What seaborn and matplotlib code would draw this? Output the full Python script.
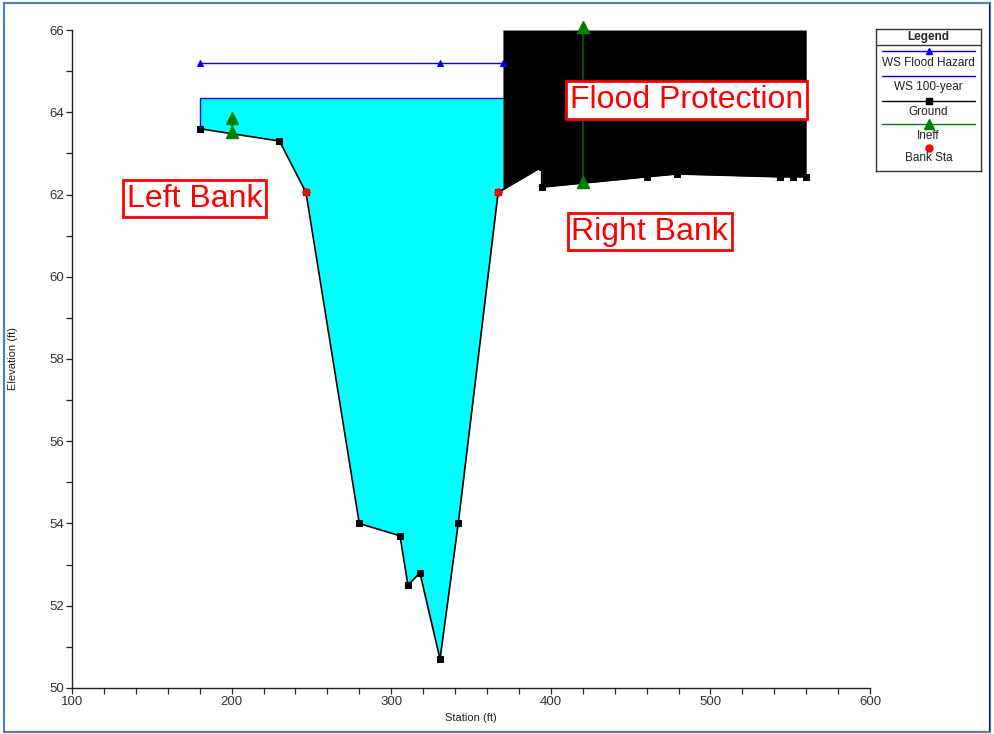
import numpy as np
import pandas as pd
import matplotlib
matplotlib.use("Agg")
import matplotlib.pyplot as plt
import seaborn as sns
from matplotlib.ticker import MultipleLocator
from matplotlib.patches import Rectangle
from matplotlib.lines import Line2D

# Cross-section ground survey (station ft, elevation ft)
ground_sta = [180.0, 230.0, 246.6, 280.0, 305.5, 310.5, 318.0, 330.6, 342.0,
              367.0, 394.3, 394.3, 460.0, 479.0, 543.6, 551.8, 560.0]
ground_elev = [63.6, 63.3, 62.05, 54.0, 53.7, 52.5, 52.8, 50.7, 54.0,
               62.05, 62.67, 62.18, 62.43, 62.5, 62.43, 62.43, 62.43]

# Bank stations
bank_sta = [246.6, 367.0]
bank_elev = [62.05, 62.05]

# Water surfaces
ws_100yr_elev = 64.35
ws_100yr_sta = [180.0, 370.0]
ws_flood_elev = 65.2
ws_flood_sta = [180.0, 330.6, 370.0]

# Blocked obstruction (flood protection)
obstruction_sta = [370.0, 560.0]
obstruction_top = 66.0

# Ineffective flow limits
ineff_left_sta = [200.0, 200.0]
ineff_left_elev = [63.52, 63.87]
ineff_right_sta = [420.0, 420.0]
ineff_right_elev = [62.3, 66.07]

# Callout labels
label_text = ["Left Bank", "Right Bank", "Flood Protection"]
label_sta = [177.0, 462.0, 485.0]
label_elev = [61.9, 61.1, 64.3]

sns.set_theme(style="white")
plt.rcParams["font.family"] = ["Liberation Sans", "DejaVu Sans"]

fig = plt.figure(figsize=(9.94, 7.34), dpi=100)
ax = fig.add_axes([0.0724, 0.0627, 0.8029, 0.8964])

ground = pd.DataFrame({"Station": ground_sta, "Elevation": ground_elev})
gx = np.array(ground_sta)
gy = np.array(ground_elev)

# Wetted area under the 100-year water surface
x0, x1 = ws_100yr_sta
mask = (gx >= x0) & (gx < x1)
wx = np.concatenate([gx[mask], [x1]])
wy = np.concatenate([gy[mask], [np.interp(x1, gx[:10], gy[:10])]])
ax.fill_between(wx, wy, ws_100yr_elev, color="#00FFFF", lw=0, zorder=1)

# Ground line (drawn beneath the obstruction fill)
sns.lineplot(data=ground, x="Station", y="Elevation", ax=ax, sort=False,
             estimator=None, color="black", lw=1.2, marker="s", markersize=4.5,
             markeredgecolor="black", zorder=1.5)

# Obstruction fill between ground and its top elevation
o0, o1 = obstruction_sta
mask = (gx > o0) & (gx <= o1)
ox = np.concatenate([[o0], gx[mask]])
oy = np.concatenate([[np.interp(o0, gx[:11], gy[:11])], gy[mask]])
ax.fill_between(ox, oy, obstruction_top, color="black", lw=0, zorder=2)

# Water surface lines
ax.plot([ws_100yr_sta[0], ws_100yr_sta[0], ws_100yr_sta[1]],
        [ground_elev[0], ws_100yr_elev, ws_100yr_elev],
        color="#0000FF", lw=1.0, zorder=3)
sns.lineplot(x=ws_flood_sta, y=[ws_flood_elev] * len(ws_flood_sta), ax=ax,
             color="#0000FF", lw=1.0, marker="^", markersize=4,
             markeredgecolor="#0000FF", sort=False, estimator=None, zorder=4)

# Ineffective flow markers
for sx, sy in [(ineff_left_sta, ineff_left_elev), (ineff_right_sta, ineff_right_elev)]:
    ax.plot(sx, sy, color="#006400", lw=1.2, zorder=6, clip_on=False)
    ax.plot(sx, sy, ls="none", marker="^", color="#008000", markersize=8,
            markeredgecolor="#008000", zorder=6, clip_on=False)

# Bank stations
sns.scatterplot(x=bank_sta, y=bank_elev, ax=ax, color="#FF0000", s=30,
                edgecolor="#FF0000", zorder=7)

# Callouts
for t, sx, sy in zip(label_text, label_sta, label_elev):
    ax.text(sx, sy, t, fontsize=23, color="#FF0000", ha="center", va="center",
            zorder=10,
            bbox=dict(boxstyle="square,pad=0.12", facecolor="white",
                      edgecolor="#FF0000", linewidth=2))

ax.set_xlim(100, 600)
ax.set_ylim(50, 66)
ax.xaxis.set_major_locator(MultipleLocator(100))
ax.xaxis.set_minor_locator(MultipleLocator(20))
ax.yaxis.set_major_locator(MultipleLocator(2))
ax.yaxis.set_minor_locator(MultipleLocator(1))
ax.tick_params(which="both", direction="out", length=4, width=0.9,
               color="#222222", labelsize=9.5, labelcolor="#333333",
               bottom=True, left=True, pad=1.5)
for side in ["top", "right"]:
    ax.spines[side].set_visible(False)
for side in ["left", "bottom"]:
    ax.spines[side].set_color("#222222")
    ax.spines[side].set_linewidth(1.0)
ax.set_xlabel("Station (ft)", fontsize=8, color="#222222", labelpad=4)
ax.set_ylabel("Elevation (ft)", fontsize=8, color="#222222")
ax.yaxis.set_label_coords(-0.068, 0.5)
ax.set_facecolor("white")

# Legend panel
lg = fig.add_axes([876 / 994, 1 - 171 / 734, 105 / 994, 142 / 734])
lg.set_xlim(0, 105)
lg.set_ylim(142, 0)
lg.set_xticks([])
lg.set_yticks([])
for s in lg.spines.values():
    s.set_color("#333333")
    s.set_linewidth(1.0)
lg.text(52.5, 8, "Legend", ha="center", va="center", fontsize=8.5, fontweight="bold")
lg.add_line(Line2D([0, 105], [16, 16], color="#333333", lw=1.0))
entries = [
    ("WS Flood Hazard", dict(color="#0000FF", marker="^", ms=4), 22, 34),
    ("WS 100-year", dict(color="#0000FF", marker=None, ms=0), 47, 58),
    ("Ground", dict(color="black", marker="s", ms=4), 72, 83),
    ("Ineff", dict(color="#008000", marker="^", ms=7), 95, 107),
    ("Bank Sta", None, 119, 129),
]
for name, sty, ly, ty in entries:
    if sty is None:
        lg.plot([52.5], [ly], ls="none", marker="o", color="#FF0000", ms=5)
    else:
        lg.plot([6, 99], [ly, ly], color=sty["color"], lw=1.0)
        if sty["marker"]:
            lg.plot([52.5], [ly], ls="none", marker=sty["marker"],
                    color=sty["color"], ms=sty["ms"])
    lg.text(52.5, ty, name, ha="center", va="center", fontsize=8.5, color="#222222")

# Window frame
fig.patches.append(Rectangle((4 / 994, 2 / 734), 986 / 994, 729 / 734,
                             transform=fig.transFigure, fill=False,
                             edgecolor="#4F81BD", linewidth=1.6))
fig.lines.append(Line2D([989 / 994, 989 / 994], [3 / 734, 730 / 734],
                        transform=fig.transFigure, color="#222222", lw=0.8))
fig.lines.append(Line2D([5 / 994, 989 / 994], [3 / 734, 3 / 734],
                        transform=fig.transFigure, color="#777777", lw=0.8))

fig.savefig("out.png", dpi=100, facecolor="white")
